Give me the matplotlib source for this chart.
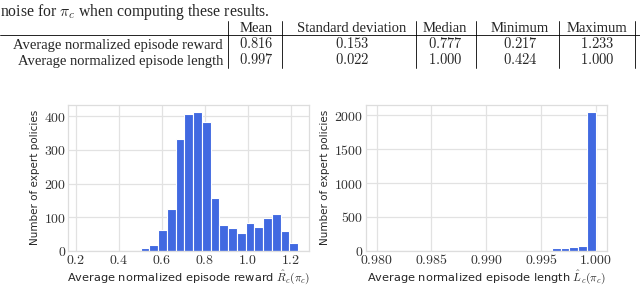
import numpy as np
import matplotlib
matplotlib.use("Agg")
import matplotlib.pyplot as plt
from matplotlib.lines import Line2D
import seaborn as sns

# ---- data ----
table_cols = ["Mean", "Standard deviation", "Median", "Minimum", "Maximum"]
table_rows = ["Average normalized episode reward", "Average normalized episode length"]
reward_stats = ["0.816", "0.153", "0.777", "0.217", "1.233"]
length_stats = ["0.997", "0.022", "1.000", "0.424", "1.000"]

# histogram of reward: 25 bins between min and max
reward_range = (0.217, 1.233)
reward_counts = [1, 0, 0, 0, 0, 0, 0, 9, 17, 63, 124, 332, 406, 413, 383,
                 157, 77, 69, 54, 83, 72, 96, 109, 59, 23]
reward_ticks = [0.2, 0.4, 0.6, 0.8, 1.0, 1.2]
reward_ticklabels = ["0.2", "0.4", "0.6", "0.8", "1.0", "1.2"]
reward_yticks = [0, 100, 200, 300, 400]

# histogram of length: 25 bins over 0.98 .. 1.0
length_range = (0.98, 1.0)
length_counts = [0, 0, 0, 0, 0, 0, 0, 0, 0, 0, 0, 0, 0, 0, 0, 0, 0, 12, 0, 0,
                 37, 45, 55, 66, 2051]
length_ticks = [0.980, 0.985, 0.990, 0.995, 1.000]
length_ticklabels = ["0.980", "0.985", "0.990", "0.995", "1.000"]
length_yticks = [0, 500, 1000, 1500, 2000]

W, H = 640, 285

sns.set_style("whitegrid")
plt.rcParams['font.family'] = ['DejaVu Sans']
plt.rcParams['mathtext.fontset'] = 'cm'
plt.rcParams['axes.edgecolor'] = '#dddddd'
plt.rcParams['grid.color'] = '#e2e2e2'

fig = plt.figure(figsize=(W / 100, H / 100), dpi=100)


def fx(px):
    return px / W


def fy(py):
    return 1 - py / H


serif = 'Liberation Serif'

# ---- text above ----
fig.text(fx(0), fy(15.5), r"noise for $\pi_c$ when computing these results.",
         family=serif, size=11.3, va='baseline', ha='left')

# ---- table ----
col_centers = [256, 352, 445, 520, 597]
row_label_right = 223
vlines_x = [228, 282, 416, 476, 559, 635]
for c, name in zip(col_centers, table_cols):
    fig.text(fx(c), fy(31.5), name, family=serif, size=10.5, ha='center', va='baseline')
for r, (label, stats) in enumerate(zip(table_rows, [reward_stats, length_stats])):
    yb = 48.5 + r * 16
    fig.text(fx(row_label_right), fy(yb), label, family=serif, size=10.5,
             ha='right', va='baseline')
    for c, v in zip(col_centers, stats):
        fig.text(fx(c), fy(yb), "$" + v + "$", size=10.5, ha='center', va='baseline')
fig.add_artist(Line2D([0, 1], [fy(35.5), fy(35.5)], color='black', lw=0.6,
                      transform=fig.transFigure))
for x in vlines_x:
    fig.add_artist(Line2D([fx(x), fx(x)], [fy(21), fy(68)], color='black', lw=0.6,
                          transform=fig.transFigure))

# ---- histograms ----
ax1 = fig.add_axes([fx(68.3), fy(250.7), fx(309 - 68.3), (250.7 - 105) / H])
ax2 = fig.add_axes([fx(365.7), fy(250.7), fx(606.7 - 365.7), (250.7 - 105) / H])

panels = [
    (ax1, reward_range, reward_counts, reward_ticks, reward_ticklabels, reward_yticks,
     r"Average normalized episode reward $\hat{R}_c(\pi_c)$"),
    (ax2, length_range, length_counts, length_ticks, length_ticklabels, length_yticks,
     r"Average normalized episode length $\hat{L}_c(\pi_c)$"),
]
for ax, rng, counts, xt, xtl, yt, xlabel in panels:
    edges = np.linspace(rng[0], rng[1], len(counts) + 1)
    centers = (edges[:-1] + edges[1:]) / 2
    ax.hist(centers, bins=edges, weights=counts, color='royalblue',
            edgecolor='white', linewidth=0.8)
    ax.set_xticks(xt)
    ax.set_xticklabels(["$" + s + "$" for s in xtl], fontsize=10)
    ax.set_yticks(yt)
    ax.set_yticklabels(["$" + str(v) + "$" for v in yt], fontsize=10)
    ax.tick_params(axis='both', length=0, pad=1.5, labelcolor='#333333')
    ax.set_xlabel(xlabel, fontsize=8.2, labelpad=1)
    ax.set_ylabel("Number of expert policies", fontsize=7.5, labelpad=3)
    ax.grid(True, lw=0.9)
    for s in ax.spines.values():
        s.set_linewidth(0.9)

fig.savefig("out.png", dpi=100)
